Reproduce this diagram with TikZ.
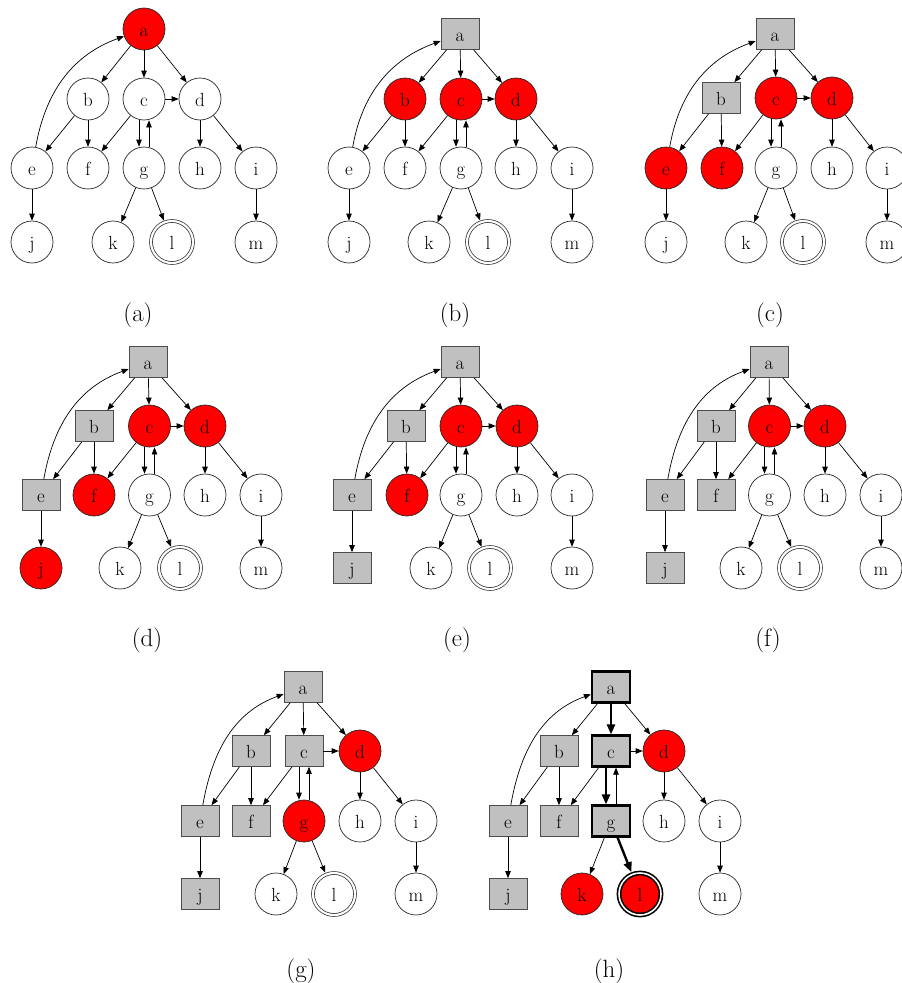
\documentclass[tikz,border=0pt]{standalone}
\usepackage{fontspec}
\usetikzlibrary{arrows.meta}
\definecolor{visitgray}{HTML}{C0C0C0}
\definecolor{hotred}{HTML}{FF0000}
\tikzset{
  vx/.style={circle, draw=black!85, line width=0.7pt, fill=white, minimum size=42pt,
    inner sep=0pt, text height=14.6pt, text depth=0pt, font=\fontsize{19}{22}\selectfont},
  frontier/.style={fill=hotred},
  visited/.style={rectangle, fill=visitgray, draw=black!70, minimum width=38pt, minimum height=31pt},
  target/.style={double, double distance=2.2pt, outer sep=2pt},
  onpath/.style={line width=2.2pt, draw=black},
  targetpath/.style={line width=1.6pt, double distance=1.6pt, draw=black, outer sep=2.5pt},
  link/.style={line width=0.7pt, -{Triangle[length=7pt,width=5.5pt]}},
  hotlink/.style={line width=2.4pt, -{Triangle[length=10pt,width=8pt]}},
  eAC/.style={}, eCG/.style={}, eGL/.style={},
  sublabel/.style={font=\fontsize{25}{30}\selectfont, inner sep=0pt},
}
% all edges of one graph; #1 is the node-name prefix of the panel
\newcommand\graphedges[1]{%
  \draw[link] (#1a) -- (#1b);
  \draw[link,eAC] (#1a) -- (#1c);
  \draw[link] (#1a) -- (#1d);
  \draw[link] (#1e) to[out=80,in=200] (#1a);
  \draw[link] (#1b) -- (#1e);
  \draw[link] (#1b) -- (#1f);
  \draw[link] (#1c) -- (#1f);
  \draw[link,eCG] ([xshift=-5pt]#1c.south) -- ([xshift=-5pt]#1g.north);
  \draw[link] ([xshift=5pt]#1g.north) -- ([xshift=5pt]#1c.south);
  \draw[link] (#1c) -- (#1d);
  \draw[link] (#1d) -- (#1h);
  \draw[link] (#1d) -- (#1i);
  \draw[link] (#1e) -- (#1j);
  \draw[link] (#1g) -- (#1k);
  \draw[link,eGL] (#1g) -- (#1l);
  \draw[link] (#1i) -- (#1m);
}
\begin{document}
\begin{tikzpicture}[x=1pt,y=1pt]
\useasboundingbox (0,0) rectangle (902,-983);

% (a)
\node[vx,frontier] (Aa) at (144,-29) {a};
\node[vx] (Ab) at (88,-99) {b};
\node[vx] (Ac) at (144,-99) {c};
\node[vx] (Ad) at (200,-99) {d};
\node[vx] (Ae) at (32,-168) {e};
\node[vx] (Af) at (88,-168) {f};
\node[vx] (Ag) at (144,-168) {g};
\node[vx] (Ah) at (200,-168) {h};
\node[vx] (Ai) at (256,-168) {i};
\node[vx] (Aj) at (32,-242) {j};
\node[vx] (Ak) at (113,-242) {k};
\node[vx,target] (Al) at (172,-242) {l};
\node[vx] (Am) at (256,-242) {m};
\graphedges{A}
\node[sublabel] (capA) at (138,-315.5) {(a)};

% (b)
\node[vx,visited] (Ba) at (460,-34) {a};
\node[vx,frontier] (Bb) at (405,-99) {b};
\node[vx,frontier] (Bc) at (461,-99) {c};
\node[vx,frontier] (Bd) at (516,-99) {d};
\node[vx] (Be) at (349,-168) {e};
\node[vx] (Bf) at (405,-168) {f};
\node[vx] (Bg) at (461,-168) {g};
\node[vx] (Bh) at (516,-168) {h};
\node[vx] (Bi) at (572,-168) {i};
\node[vx] (Bj) at (349,-242) {j};
\node[vx] (Bk) at (429,-242) {k};
\node[vx,target] (Bl) at (488,-242) {l};
\node[vx] (Bm) at (572,-242) {m};
\graphedges{B}
\node[sublabel] (capB) at (455,-315.5) {(b)};

% (c)
\node[vx,visited] (Ca) at (775,-34) {a};
\node[vx,visited] (Cb) at (721,-98) {b};
\node[vx,frontier] (Cc) at (776,-98) {c};
\node[vx,frontier] (Cd) at (832,-98) {d};
\node[vx,frontier] (Ce) at (666,-168) {e};
\node[vx,frontier] (Cf) at (722,-168) {f};
\node[vx] (Cg) at (776,-168) {g};
\node[vx] (Ch) at (832,-168) {h};
\node[vx] (Ci) at (887,-168) {i};
\node[vx] (Cj) at (666,-242) {j};
\node[vx] (Ck) at (746,-242) {k};
\node[vx,target] (Cl) at (803,-242) {l};
\node[vx] (Cm) at (887,-242) {m};
\graphedges{C}
\node[sublabel] (capC) at (770,-315.5) {(c)};

% (d)
\node[vx,visited] (Da) at (148,-362) {a};
\node[vx,visited] (Db) at (94,-426) {b};
\node[vx,frontier] (Dc) at (149.5,-426) {c};
\node[vx,frontier] (Dd) at (205,-426) {d};
\node[vx,visited] (De) at (41,-495) {e};
\node[vx,frontier] (Df) at (94,-495) {f};
\node[vx] (Dg) at (149.5,-495) {g};
\node[vx] (Dh) at (205,-495) {h};
\node[vx] (Di) at (261,-495) {i};
\node[vx,frontier] (Dj) at (41,-568) {j};
\node[vx] (Dk) at (120,-568) {k};
\node[vx,target] (Dl) at (180,-568) {l};
\node[vx] (Dm) at (261,-568) {m};
\graphedges{D}
\node[sublabel] (capD) at (147,-640) {(d)};

% (e)
\node[vx,visited] (Ea) at (460,-362) {a};
\node[vx,visited] (Eb) at (406,-426) {b};
\node[vx,frontier] (Ec) at (461,-426) {c};
\node[vx,frontier] (Ed) at (517,-426) {d};
\node[vx,visited] (Ee) at (352,-495) {e};
\node[vx,frontier] (Ef) at (407,-495) {f};
\node[vx] (Eg) at (461,-495) {g};
\node[vx] (Eh) at (517,-495) {h};
\node[vx] (Ei) at (572,-495) {i};
\node[vx,visited] (Ej) at (352,-568) {j};
\node[vx] (Ek) at (431,-568) {k};
\node[vx,target] (El) at (490,-568) {l};
\node[vx] (Em) at (572,-568) {m};
\graphedges{E}
\node[sublabel] (capE) at (457,-640) {(e)};

% (f)
\node[vx,visited] (Fa) at (769,-362) {a};
\node[vx,visited] (Fb) at (716,-426) {b};
\node[vx,frontier] (Fc) at (769.5,-426) {c};
\node[vx,frontier] (Fd) at (825,-426) {d};
\node[vx,visited] (Fe) at (665,-495) {e};
\node[vx,visited] (Ff) at (716,-495) {f};
\node[vx] (Fg) at (769.5,-495) {g};
\node[vx] (Fh) at (825,-495) {h};
\node[vx] (Fi) at (881,-495) {i};
\node[vx,visited] (Fj) at (665,-568) {j};
\node[vx] (Fk) at (741,-568) {k};
\node[vx,target] (Fl) at (800,-568) {l};
\node[vx] (Fm) at (881,-568) {m};
\graphedges{F}
\node[sublabel] (capF) at (768,-640) {(f)};

% (g)
\node[vx,visited] (Ga) at (303,-687) {a};
\node[vx,visited] (Gb) at (251,-751) {b};
\node[vx,visited] (Gc) at (304,-751) {c};
\node[vx,frontier] (Gd) at (360,-751) {d};
\node[vx,visited] (Ge) at (200,-821) {e};
\node[vx,visited] (Gf) at (251,-821) {f};
\node[vx,frontier] (Gg) at (304,-821) {g};
\node[vx] (Gh) at (360,-821) {h};
\node[vx] (Gi) at (416,-821) {i};
\node[vx,visited] (Gj) at (200,-894) {j};
\node[vx] (Gk) at (276,-894) {k};
\node[vx,target] (Gl) at (334,-894) {l};
\node[vx] (Gm) at (416,-894) {m};
\graphedges{G}
\node[sublabel] (capG) at (301,-971) {(g)};

% (h): the path a -> c -> g -> l is drawn bold
\begin{scope}[eAC/.style={hotlink}, eCG/.style={hotlink}, eGL/.style={hotlink}]
\node[vx,visited,onpath] (Ha) at (611,-687) {a};
\node[vx,visited] (Hb) at (559,-751) {b};
\node[vx,visited,onpath] (Hc) at (611,-751) {c};
\node[vx,frontier] (Hd) at (664,-751) {d};
\node[vx,visited] (He) at (508,-821) {e};
\node[vx,visited] (Hf) at (559,-821) {f};
\node[vx,visited,onpath] (Hg) at (611,-821) {g};
\node[vx] (Hh) at (664,-821) {h};
\node[vx] (Hi) at (720,-821) {i};
\node[vx,visited] (Hj) at (508,-894) {j};
\node[vx,frontier] (Hk) at (582,-894) {k};
\node[vx,frontier,target,targetpath] (Hl) at (640,-894) {l};
\node[vx] (Hm) at (720,-894) {m};
\graphedges{H}
\end{scope}
\node[sublabel] (capH) at (609,-971) {(h)};
\end{tikzpicture}
\end{document}
